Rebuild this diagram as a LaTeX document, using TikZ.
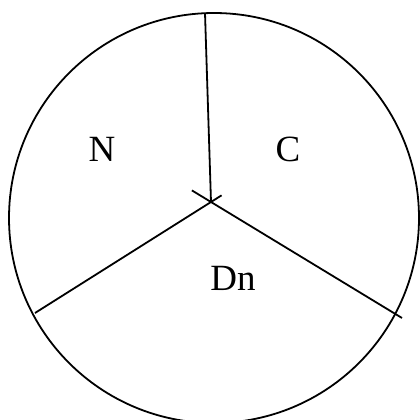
\documentclass[tikz,border=0pt]{standalone}
\usepackage{fontspec}
\setmainfont{Liberation Serif}
\usepackage{tikz}
\usetikzlibrary{calc}
\tikzset{
  rim/.style={draw=black,line width=1.8pt},
  cut/.style={draw=black,line width=1.8pt},
  lbl/.style={font=\fontsize{37}{40}\selectfont,inner sep=0pt},
}

\begin{document}
\begin{tikzpicture}[x=1pt,y=-1pt]
  \useasboundingbox (0,0) rectangle (420,420);
  \coordinate (ctr) at (211,202);
  \coordinate (top) at (205,13);
  \coordinate (lft) at (35,313);
  \coordinate (rgt) at (402,318);
  \draw[rim] (214,218) circle[radius=205];

  \draw[cut] (top) -- (ctr);
  \draw[cut] (lft) -- ($(ctr)!-0.06!(lft)$);
  \draw[cut] (rgt) -- ($(ctr)!-0.1!(rgt)$);

  \node[lbl] (n) at (102,149) {N};
  \node[lbl] (c) at (288,149) {C};
  \node[lbl] (dn) at (233,278) {Dn};
\end{tikzpicture}
\end{document}
